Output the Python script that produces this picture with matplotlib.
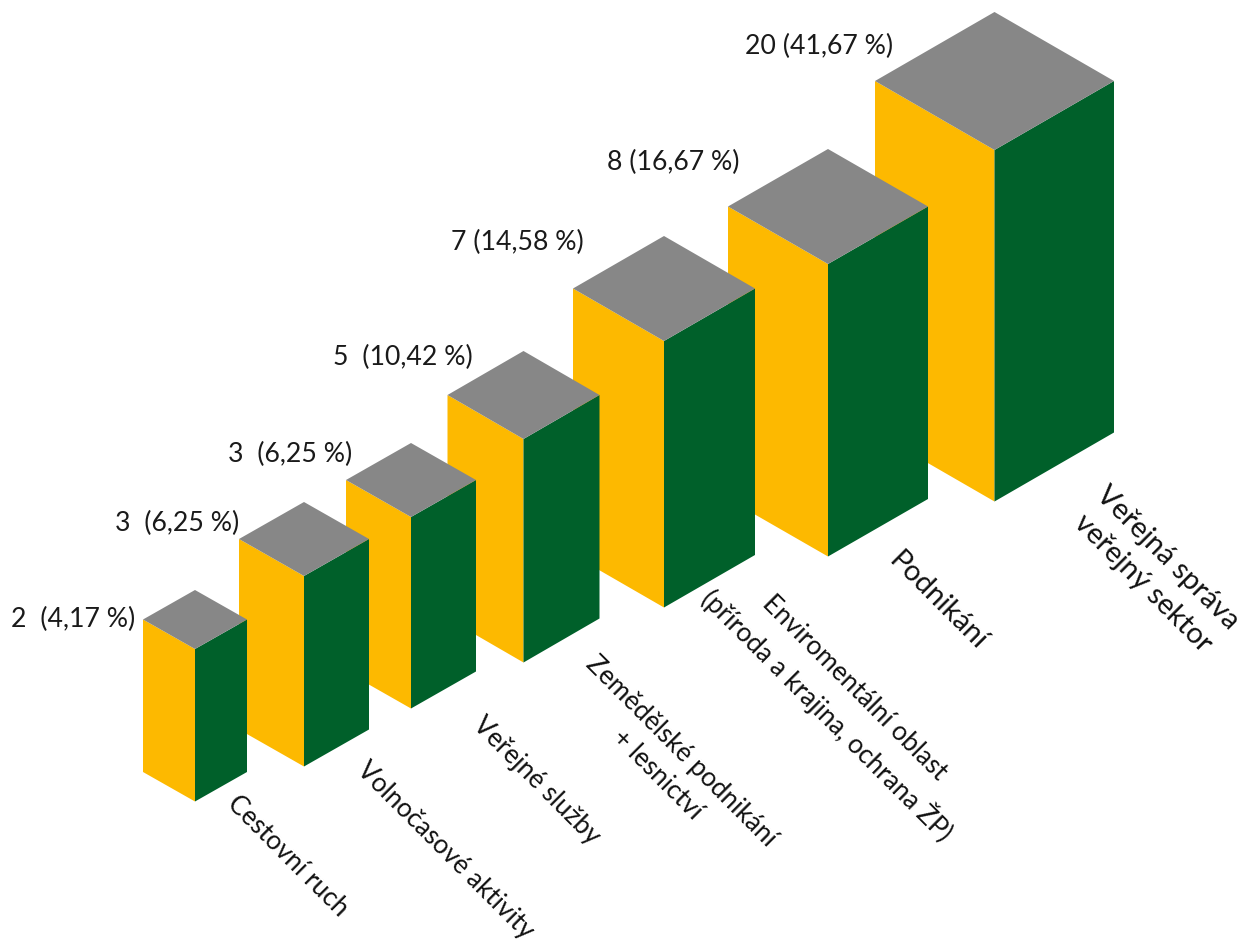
import matplotlib
matplotlib.use("Agg")
import matplotlib.pyplot as plt
from matplotlib.patches import Polygon

plt.rcParams['font.family'] = ['Lato', 'DejaVu Sans']

categories = ["Cestovní ruch", "Volnočasové aktivity", "Veřejné služby",
              "Zemědělské podnikání\n+ lesnictví",
              "Enviromentální oblast\n(příroda a krajina, ochrana ŽP)",
              "Podnikání", "Veřejná správa\nveřejný sektor"]
values = ["2  (4,17 %)", "3  (6,25 %)", "3  (6,25 %)", "5  (10,42 %)",
          "7 (14,58 %)", "8 (16,67 %)", "20 (41,67 %)"]

# Box geometry in scene units
front_x = [195, 304, 411, 523.5, 664, 828, 994.5]
front_y = [801.5, 766.5, 708.5, 662.5, 607.5, 556.5, 501.5]
half_w = [52, 65, 65, 76, 91, 100, 119.5]
half_d = [29.5, 37, 37, 44, 52.5, 57.5, 69]
heights = [152.5, 190.5, 191.5, 223.5, 266.5, 292.5, 351.5]

# Label anchors and sizes
value_x = [11, 115, 228, 333, 451, 607, 745]
value_y = [619.5, 523.5, 454.5, 357.5, 242.5, 162.5, 46.5]
cat_x = [288, 445, 536, 669, 840, 938, 1155]
cat_y = [856, 851, 781, 763, 702, 601, 571]
cat_size = [18.8, 18.8, 18.8, 18.8, 18.8, 21, 21]

YELLOW, GREEN, GREY = "#FDB900", "#00602A", "#878787"

fig = plt.figure(figsize=(12.44, 9.42), dpi=100)
ax = fig.add_axes([0, 0, 1, 1])
ax.set_xlim(0, 1244)
ax.set_ylim(942, 0)
ax.axis("off")

for i in reversed(range(len(categories))):
    x, y, w, d, h = front_x[i], front_y[i], half_w[i], half_d[i], heights[i]
    ax.add_patch(Polygon([(x - w, y - d), (x, y), (x, y - h), (x - w, y - h - d)],
                         closed=True, fc=YELLOW, ec="none"))
    ax.add_patch(Polygon([(x, y), (x + w, y - d), (x + w, y - h - d), (x, y - h)],
                         closed=True, fc=GREEN, ec="none"))
    ax.add_patch(Polygon([(x, y - h), (x + w, y - h - d), (x, y - h - 2 * d), (x - w, y - h - d)],
                         closed=True, fc=GREY, ec="none"))

for i, label in enumerate(values):
    ax.text(value_x[i], value_y[i], label, fontsize=19.2, color="#1a1a1a",
            ha="left", va="center")

for i, label in enumerate(categories):
    ax.text(cat_x[i], cat_y[i], label, fontsize=cat_size[i], color="#111111", rotation=-45,
            rotation_mode="anchor", ha="center", va="center", linespacing=1.45,
            multialignment="center")

fig.savefig("out.png", dpi=100, facecolor="white")
